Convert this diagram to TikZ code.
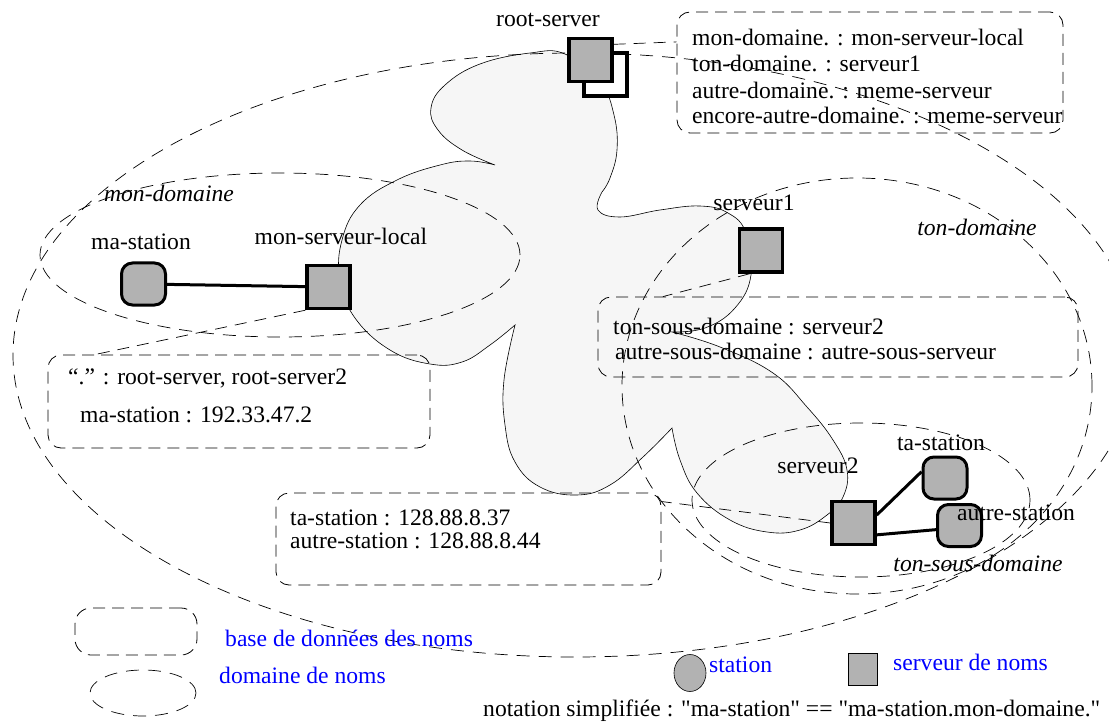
\documentclass[tikz,border=0pt]{standalone}
\usepackage{fontspec}
\setmainfont{Liberation Serif}[Ligatures=TeXOff]
\usetikzlibrary{shapes.geometric}
\definecolor{srvgray}{gray}{0.7}
\definecolor{cloudgray}{gray}{0.965}
\begin{document}
\begin{tikzpicture}[x=1pt,y=-1pt,
  every node/.style={font=\fontsize{23.6}{28}\selectfont, inner sep=0pt},
  srv/.style={draw, line width=3.5pt, fill=srvgray, minimum width=43pt, minimum height=43pt},
  sta/.style={draw, line width=3pt, fill=srvgray, rounded corners=11pt, minimum width=44pt, minimum height=42pt},
  dbbox/.style={draw, line width=0.8pt, dash pattern=on 12pt off 7pt, rounded corners=13pt},
  dom/.style={draw, line width=0.7pt, dash pattern=on 13pt off 9pt},
  link/.style={line width=3pt},
  dblink/.style={line width=0.7pt, dash pattern=on 12pt off 8pt},
  legend/.style={text=blue, anchor=west},
  txt/.style={anchor=west},
]
\path[use as bounding box] (0,0) rectangle (1109,722);
\clip (0,0) rectangle (1109,722);

% cloud (zone served by the root)
\draw[line width=0.6pt, fill=cloudgray]
  plot[smooth, tension=0.7] coordinates {(495,165) (462,150) (438,130) (431,108) (445,85) (480,64) (530,53) (565,54) (600,82) (614,115) (617,150) (610,178) (602,192)}
  -- plot[smooth, tension=0.7] coordinates {(602,192) (598,210) (620,217) (660,210) (700,206) (728,213) (746,233) (751,275) (735,308) (705,328) (672,332)}
  -- plot[smooth, tension=0.7] coordinates {(672,332) (720,347) (773,373) (807,407) (833,440) (847,470) (843,497) (827,515) (800,530) (767,532) (730,520) (697,493) (680,460) (672,428)}
  -- plot[smooth, tension=0.7] coordinates {(672,428) (643,457) (610,485) (577,495) (540,487) (515,462) (505,425) (504,380) (515,325)}
  -- plot[smooth, tension=0.7] coordinates {(515,325) (490,345) (462,362) (430,364) (390,350) (355,318) (340,280) (342,240) (360,205) (397,180) (440,165) (470,161) (495,165)}
  -- cycle;

% domains
\draw[dom] (575,355) ellipse [x radius=562pt, y radius=302pt];
\draw[dom] (280,255) ellipse [x radius=240pt, y radius=82pt];
\draw[dom] (857,386) ellipse [x radius=235pt, y radius=208pt];
\draw[dom] (861,500) ellipse [x radius=169pt, y radius=77pt];

\node at (169,193) {\textit{mon-domaine}};
\node at (977,227) {\textit{ton-domaine}};
\node at (978,563) {\textit{ton-sous-domaine}};

% databases
\node[dbbox, minimum width=386pt, minimum height=121pt] (rootdb) at (870,72.5) {};
\node[txt] at (692,37) {mon-domaine. : mon-serveur-local};
\node[txt] at (692,63) {ton-domaine. : serveur1};
\node[txt] at (692,90) {autre-domaine. : meme-serveur};
\node[txt] at (692,115) {encore-autre-domaine. : meme-serveur};

\node[dbbox, minimum width=382pt, minimum height=93pt] (msldb) at (239,401.5) {};
\node[txt] at (68,378) {“.” : root-server, root-server2};
\node[txt] at (80,415) {ma-station : 192.33.47.2};

\node[dbbox, minimum width=480pt, minimum height=80pt] (s1db) at (838,337) {};
\node[txt] at (613,326) {ton-sous-domaine : serveur2};
\node[txt] at (615,351) {autre-sous-domaine : autre-sous-serveur};

\node[dbbox, minimum width=385pt, minimum height=92pt] (s2db) at (468.5,539) {};
\node[txt] at (290,518) {ta-station : 128.88.8.37};
\node[txt] at (290,541) {autre-station : 128.88.8.44};

% servers and stations
\node[srv, fill=white] (root2) at (605.5,74.5) {};
\node[srv] (root) at (590.5,60) {};
\node at (548,20) {root-server};

\node[sta] (mast) at (143.5,284) {};
\node at (141,242) {ma-station};
\node[srv] (msl) at (328.5,287) {};
\node at (341,236) {mon-serveur-local};

\node[srv] (s1) at (761,250.5) {};
\node at (754,203) {serveur1};

\node[srv] (s2) at (853.5,523) {};
\node at (818,466) {serveur2};
\node[sta] (tast) at (945,478) {};
\node[sta] (aust) at (959.5,525.5) {};

% links
\draw[dblink] (root.34) -- (rootdb.171);
\draw[dblink] (msl.south west) -- (msldb.162);
\draw[dblink] (s1.244) -- (s1db.167);
\draw[dblink] (s2.west) -- (s2db.11);
\draw[link] (mast) -- (msl);
\draw[link] (s2.19) -- (tast.165);
\draw[link] (s2.-27) -- (aust.190);

\node at (941,443) {ta-station};
\node at (1016,513) {autre-station};

% legend
\node[dbbox, minimum width=122pt, minimum height=47pt, rounded corners=16pt] (legdb) at (136,631.5) {};
\node[legend] at (225,638) {base de données des noms};
\node[dom, ellipse, minimum width=106pt, minimum height=46pt] (legdom) at (143,693) {};
\node[legend] at (219,675) {domaine de noms};
\node[draw, line width=0.6pt, fill=srvgray, ellipse, minimum width=32pt, minimum height=37pt] (legsta) at (690,673) {};
\node[legend] at (709,665) {station};
\node[draw, line width=0.8pt, fill=srvgray, minimum width=29pt, minimum height=32pt] (legsrv) at (862.5,669) {};
\node[legend] at (893,662) {serveur de noms};
\node[txt] at (483,711) {notation simplifiée : "ma-station" == "ma-station.mon-domaine."};
\end{tikzpicture}
\end{document}
